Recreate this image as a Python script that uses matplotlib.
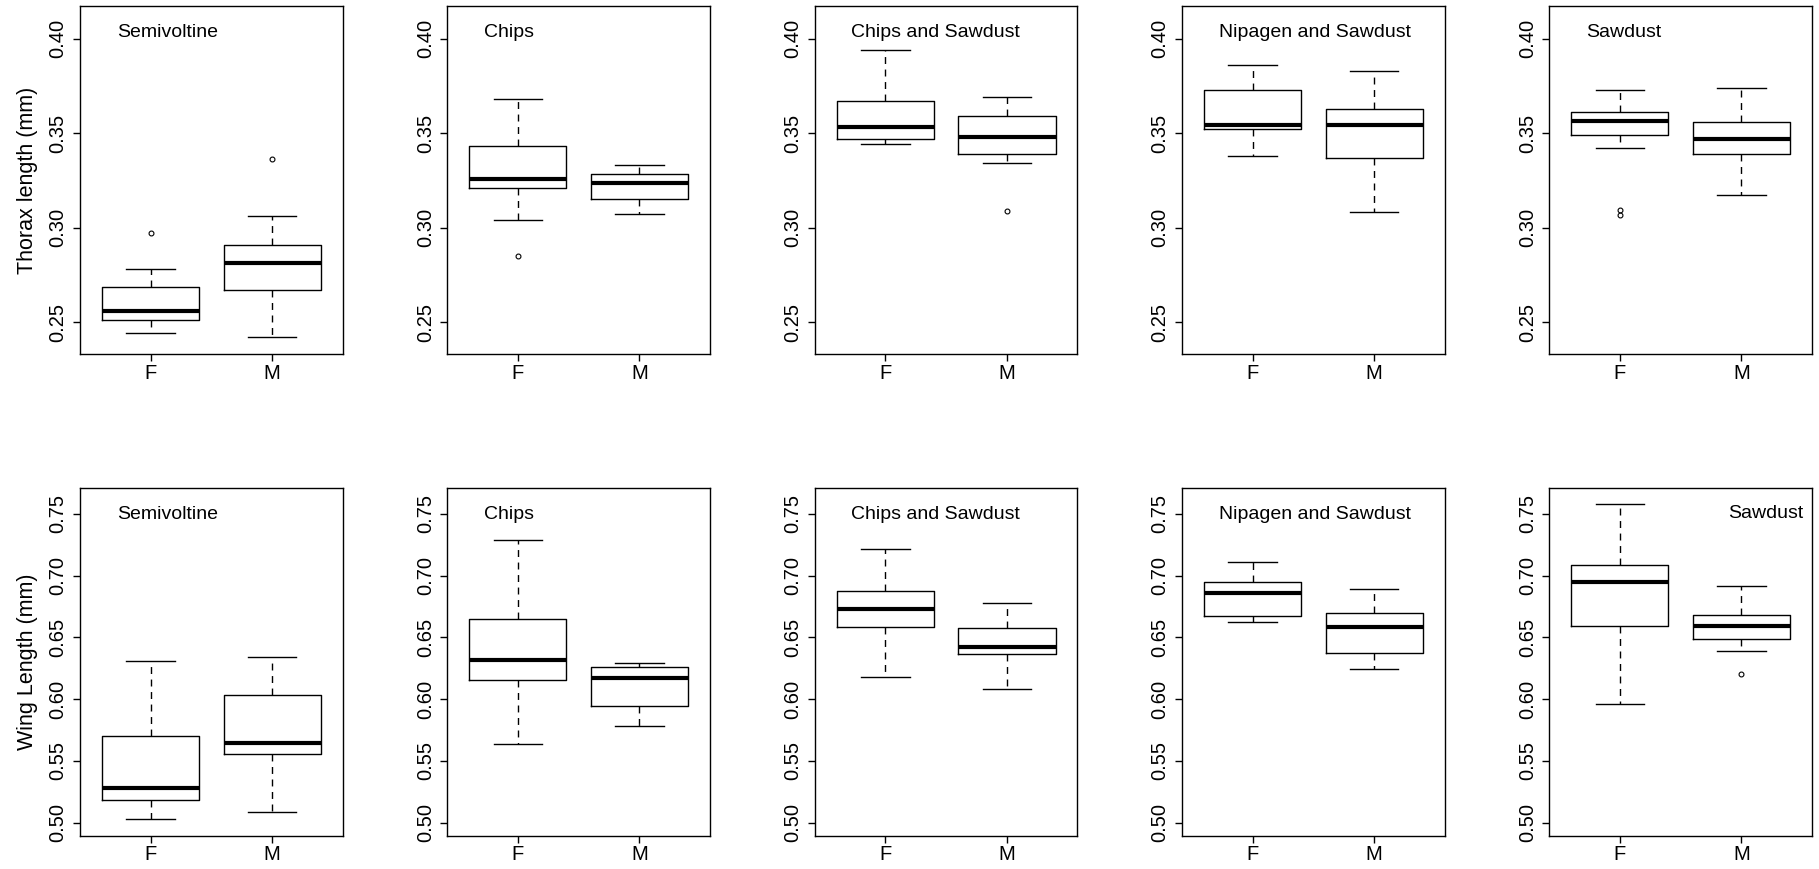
import matplotlib
matplotlib.use('agg')
import matplotlib.pyplot as plt

plt.rcParams['font.family'] = ['Liberation Sans', 'DejaVu Sans']


groups = ['Semivoltine', 'Chips', 'Chips and Sawdust', 'Nipagen and Sawdust', 'Sawdust']
sexes = ['F', 'M']

# thorax length (mm), per group: [F, M]
thorax_whislo = [[0.2443, 0.2422], [0.3041, 0.3071], [0.3441, 0.3340], [0.3381, 0.3081], [0.3422, 0.3171]]
thorax_q1 = [[0.2510, 0.2670], [0.3212, 0.3150], [0.3471, 0.3392], [0.3520, 0.3367], [0.3490, 0.3392]]
thorax_med = [[0.2561, 0.2811], [0.3259, 0.3236], [0.3531, 0.3481], [0.3541, 0.3541], [0.3563, 0.3471]]
thorax_q3 = [[0.2683, 0.2910], [0.3430, 0.3286], [0.3672, 0.3589], [0.3730, 0.3626], [0.3610, 0.3561]]
thorax_whishi = [[0.2783, 0.3060], [0.3681, 0.3332], [0.3940, 0.3691], [0.3861, 0.3831], [0.3730, 0.3741]]
thorax_fliers = [[[0.2970], [0.3362]], [[0.2850], []], [[], [0.3090]], [[], []], [[0.3093, 0.3065], []]]

# wing length (mm), per group: [F, M]
wing_whislo = [[0.5030, 0.5089], [0.5639, 0.5782], [0.6181, 0.6081], [0.6621, 0.6241], [0.5960, 0.6389]]
wing_q1 = [[0.5181, 0.5553], [0.6152, 0.5944], [0.6583, 0.6367], [0.6672, 0.6373], [0.6591, 0.6489]]
wing_med = [[0.5280, 0.5647], [0.6313, 0.6170], [0.6726, 0.6424], [0.6861, 0.6586], [0.6950, 0.6591]]
wing_q3 = [[0.5701, 0.6036], [0.6648, 0.6260], [0.6877, 0.6572], [0.6950, 0.6694], [0.7087, 0.6680]]
wing_whishi = [[0.6311, 0.6340], [0.7290, 0.6292], [0.7211, 0.6780], [0.7109, 0.6890], [0.7581, 0.6917]]
wing_fliers = [[[], []], [[], []], [[], []], [[], []], [[], [0.6200]]]


W, H = 1819, 869
LEFTS = [80, 447.3, 814.7, 1182, 1549.3]
AX_W = 262.7


def draw_panel(ax, i, lo, q1, med, q3, hi, fliers):
    stats = []
    for j, s in enumerate(sexes):
        stats.append(dict(label=s, whislo=lo[i][j], q1=q1[i][j], med=med[i][j],
                          q3=q3[i][j], whishi=hi[i][j], fliers=fliers[i][j]))
    ax.bxp(
        stats, positions=[1, 2], widths=0.8, capwidths=0.4, showfliers=True,
        boxprops=dict(color='black', linewidth=1.0),
        whiskerprops=dict(color='black', linewidth=1.0, linestyle=(0, (5, 4))),
        capprops=dict(color='black', linewidth=1.0),
        medianprops=dict(color='black', linewidth=3.0, solid_capstyle='butt'),
        flierprops=dict(marker='o', markersize=3.5, markerfacecolor='none',
                        markeredgecolor='black', markeredgewidth=0.8),
    )
    ax.set_xlim(0.42, 2.58)
    ax.set_xticks([1, 2])
    ax.set_xticklabels(sexes)
    ax.tick_params(axis='both', direction='out', length=5, width=1, labelsize=14.5, colors='black')
    ax.tick_params(axis='x', pad=2)
    ax.tick_params(axis='y', pad=4)
    for sp in ax.spines.values():
        sp.set_linewidth(1.0)
        sp.set_color('black')


fig = plt.figure(figsize=(W / 100, H / 100), dpi=100)

rows = [
    (6, 354, (0.2331, 0.4173), [0.25, 0.30, 0.35, 0.40], 'Thorax length (mm)',
     thorax_whislo, thorax_q1, thorax_med, thorax_q3, thorax_whishi, thorax_fliers),
    (488.3, 835.7, (0.4895, 0.7706), [0.50, 0.55, 0.60, 0.65, 0.70, 0.75], 'Wing Length (mm)',
     wing_whislo, wing_q1, wing_med, wing_q3, wing_whishi, wing_fliers),
]

for r, (top, bot, ylim, yticks, ylabel, lo, q1, med, q3, hi, fl) in enumerate(rows):
    for i, g in enumerate(groups):
        ax = fig.add_axes([LEFTS[i] / W, 1 - bot / H, AX_W / W, (bot - top) / H])
        draw_panel(ax, i, lo, q1, med, q3, hi, fl)
        ax.set_ylim(*ylim)
        ax.set_yticks(yticks)
        ax.set_yticklabels(['%.2f' % t for t in yticks], rotation=90, va='center')
        if r == 1 and g == 'Sawdust':
            ax.text(0.966, 0.928, g, transform=ax.transAxes, ha='right', va='center', fontsize=14)
        else:
            ax.text(0.14, 0.925, g, transform=ax.transAxes, ha='left', va='center', fontsize=14)
        if i == 0:
            ax.set_ylabel(ylabel, fontsize=15.5)
            ax.yaxis.set_label_coords(-0.16, 0.5)

fig.savefig('out.png', dpi=100)
plt.close(fig)
